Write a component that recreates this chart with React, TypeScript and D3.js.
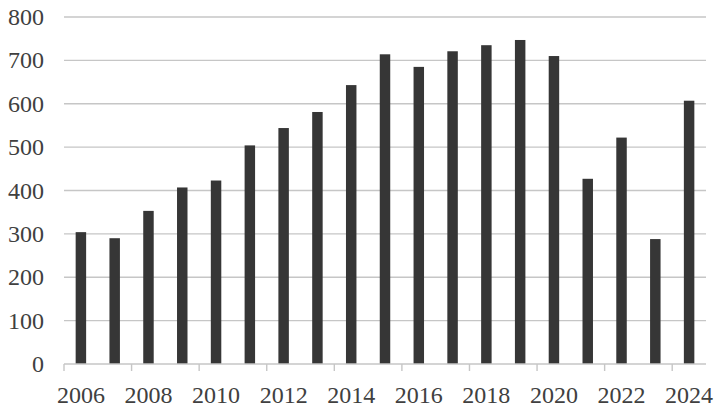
import React from "react";
import * as d3 from "d3";

const years = ["2006","2007","2008","2009","2010","2011","2012","2013","2014","2015","2016","2017","2018","2019","2020","2021","2022","2023","2024"];
const values = [304, 290, 353, 407, 423, 504, 544, 581, 643, 714, 685, 721, 735, 747, 710, 427, 522, 288, 607];
const yTicks = [0, 100, 200, 300, 400, 500, 600, 700, 800];
const xLabelYears = ["2006","2008","2010","2012","2014","2016","2018","2020","2022","2024"];

const W = 724, H = 413;
const left = 64, right = 706, top = 17, bottom = 364;
const font = "'Liberation Serif', 'Times New Roman', serif";

export default function App() {
  const x = d3.scaleBand<string>().domain(years).range([left, right]).paddingInner(0).paddingOuter(0);
  const y = d3.scaleLinear().domain([0, 800]).range([bottom, top]);
  const bw = x.bandwidth();
  const barW = bw * 0.31;
  const tickIdx = years.map((_, i) => i).filter((i) => i % 2 === 0);
  return (
    <svg width={W} height={H} style={{ position: "absolute", left: 0, top: 0, background: "#fff" }}>
      {yTicks.filter((t) => t > 0).map((t) => (
        <line key={"g" + t} x1={left} x2={right} y1={y(t)} y2={y(t)} stroke="#c6c6c6" strokeWidth={1.4} />
      ))}
      {years.map((yr, i) => (
        <rect key={yr} x={(x(yr) as number) + (bw - barW) / 2} y={y(values[i])} width={barW} height={bottom - y(values[i])} fill="#363636" />
      ))}
      <line x1={left} x2={right} y1={bottom} y2={bottom} stroke="#c6c6c6" strokeWidth={1.4} />
      {tickIdx.map((i) => (
        <line key={"t" + i} x1={(x(years[i]) as number)} x2={(x(years[i]) as number)} y1={bottom} y2={bottom + 7} stroke="#c6c6c6" strokeWidth={1.4} />
      ))}
      {yTicks.map((t) => (
        <text key={"yl" + t} x={44} y={y(t)} textAnchor="end" dominantBaseline="central" fontFamily={font} fontSize={24} fill="#404040">{t}</text>
      ))}
      {xLabelYears.map((yr) => (
        <text key={"xl" + yr} x={(x(yr) as number) + bw / 2} y={395} textAnchor="middle" dominantBaseline="central" fontFamily={font} fontSize={24} fill="#404040">{yr}</text>
      ))}
    </svg>
  );
}
